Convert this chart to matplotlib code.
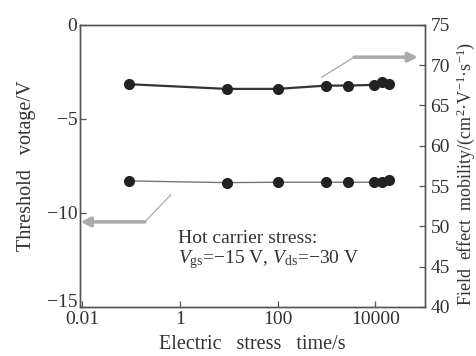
import matplotlib
matplotlib.use('Agg')
import matplotlib.pyplot as plt

# stress time (s)
stress_time = [0.09, 9, 100, 1000, 2800, 9500, 14000, 19000]
# threshold voltage (V), left axis
threshold_v = [-8.30, -8.39, -8.37, -8.37, -8.37, -8.37, -8.37, -8.26]
# field effect mobility (cm2/V/s), right axis
mobility = [67.64, 67.06, 67.06, 67.47, 67.47, 67.56, 67.90, 67.64]

x_ticks = [0.01, 1, 100, 10000]
x_ticklabels = ['0.01', '1', '100', '10000']

plt.rcParams['font.family'] = ['Liberation Serif', 'DejaVu Serif']
plt.rcParams['mathtext.fontset'] = 'custom'
plt.rcParams['mathtext.rm'] = 'Liberation Serif'
plt.rcParams['mathtext.it'] = 'Liberation Serif:italic'

spine_col = '#555555'
text_col = '#333333'

fig = plt.figure(figsize=(4.77, 3.56), dpi=100)
ax = fig.add_axes([0.168, 0.138, 0.723, 0.792])
ax2 = ax.twinx()

ax.plot(stress_time, threshold_v, '-', color='#777777', lw=1.0,
        marker='o', ms=7, mfc='#222222', mec='#222222')
ax2.plot(stress_time, mobility, '-', color='#333333', lw=1.6,
         marker='o', ms=7, mfc='#222222', mec='#222222')

ax.set_xscale('log')
ax.set_xlim(0.009, 1.05e5)
ax.set_ylim(-15, 0)
ax2.set_ylim(40, 75)
ax.set_xticks(x_ticks)
ax.set_xticklabels(x_ticklabels)
ax.minorticks_off()
ax.set_yticks([0, -5, -10, -15])
ax.set_yticklabels(['0', '\u22125', '\u221210', '\u221215'])
ax2.set_yticks([40, 45, 50, 55, 60, 65, 70, 75])

for a in (ax, ax2):
    for s in a.spines.values():
        s.set_color(spine_col)
        s.set_linewidth(1.0)
    a.tick_params(direction='in', length=4, width=0.9, color=spine_col,
                  labelsize=14, labelcolor=text_col, pad=2)
ax.tick_params(axis='x', which='minor', bottom=False)
ax.tick_params(axis='x', pad=3)
ax2.tick_params(axis='y', pad=4)
# lift the -15 label so it clears 0.01
ax.get_yticklabels()[-1].set_va('baseline')

ax.set_xlabel('Electric   stress   time/s', fontsize=14.5, color=text_col, labelpad=5)
ax.set_ylabel('Threshold   votage/V', fontsize=14.5, color=text_col, labelpad=8)
ax2.set_ylabel('Field  effect  mobility/(cm$^2$\u00b7V$^{-1}$\u00b7s$^{-1}$)',
               fontsize=13, color=text_col)
ax2.yaxis.set_label_coords(1.085, 0.47)

# arrows pointing to the respective axes
arrow_col = '#aaaaaa'
ax.plot([0.19, 0.65], [-10.48, -9.04], color=arrow_col, lw=0.9)
ax.annotate('', xy=(0.0092, -10.48), xytext=(0.19, -10.48),
            arrowprops=dict(arrowstyle='-|>', color=arrow_col, lw=2.5,
                            mutation_scale=14, shrinkA=0, shrinkB=0))
ax2.plot([800, 3700], [68.5, 71.0], color=arrow_col, lw=0.9)
ax2.annotate('', xy=(75000, 71.0), xytext=(3700, 71.0),
             arrowprops=dict(arrowstyle='-|>', color=arrow_col, lw=2.5,
                             mutation_scale=14, shrinkA=0, shrinkB=0))

ax.text(0.285, 0.2, 'Hot carrier stress:\n$V_{\\rm gs}$=\u221215 V, $V_{\\rm ds}$=\u221230 V',
        transform=ax.transAxes, fontsize=14, color=text_col,
        linespacing=1.05, va='center', ha='left')

fig.savefig('out.png', dpi=100)
